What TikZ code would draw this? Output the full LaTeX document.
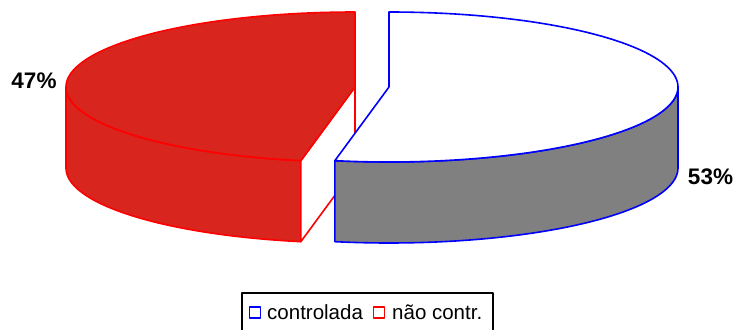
\documentclass[tikz,border=0pt]{standalone}
\usepackage{fontspec}
\setmainfont{Liberation Sans}
\definecolor{pred}{RGB}{216,37,29}
\definecolor{pgrey}{RGB}{128,128,128}
\begin{document}
\begin{tikzpicture}[x=1pt,y=-1pt,line join=round,
  redline/.style={draw=red,line width=1.6pt},
  blueline/.style={draw=blue,line width=1.6pt},
  pctlabel/.style={font=\bfseries\fontsize{22.5}{26}\selectfont,anchor=base,inner sep=0pt},
  legtext/.style={font=\fontsize{20.5}{24}\selectfont,anchor=base west,inner sep=0pt},
  legsq/.style={line width=1.5pt,minimum size=11pt,inner sep=0pt}]
\useasboundingbox (0,0) rectangle (738,329);
\clip (0,0) rectangle (738,329);
\def\rx{289}\def\ry{75}\def\dep{81}\def\cy{87}
\def\crx{355}\def\cwx{389}
\def\ta{259.2}\def\tb{-100.8}
% red slice: front side
\path[fill=pred,redline] plot[domain=180:\ta,samples=50] ({\crx+\rx*cos(\x)},{\cy-\ry*sin(\x)})
  -- plot[domain=\ta:180,samples=50] ({\crx+\rx*cos(\x)},{\cy+\dep-\ry*sin(\x)}) -- cycle;
% red slice: cut face
\path[fill=white,redline] (\crx,\cy) -- ({\crx+\rx*cos(\ta)},{\cy-\ry*sin(\ta)}) -- ++(0,\dep) -- (\crx,\cy+\dep) -- cycle;
% red slice: top
\path[fill=pred,redline] (\crx,\cy) -- plot[domain=90:\ta,samples=80] ({\crx+\rx*cos(\x)},{\cy-\ry*sin(\x)}) -- cycle;
% white slice: front side
\path[fill=pgrey,blueline] plot[domain=\tb:0,samples=60] ({\cwx+\rx*cos(\x)},{\cy-\ry*sin(\x)})
  -- plot[domain=0:\tb,samples=60] ({\cwx+\rx*cos(\x)},{\cy+\dep-\ry*sin(\x)}) -- cycle;
% white slice: top
\path[fill=white,blueline] (\cwx,\cy) -- plot[domain=90:\tb,samples=90] ({\cwx+\rx*cos(\x)},{\cy-\ry*sin(\x)}) -- cycle;
% labels
\node[pctlabel] (l47) at (34,88) {47\%};
\node[pctlabel] (l53) at (710.5,184) {53\%};
% legend
\draw[line width=1.5pt] (242,293) rectangle (493,333);
\node[legsq,draw=blue] (sqc) at (255,312.5) {};
\node[legtext] (tc) at (267,319.3) {controlada};
\node[legsq,draw=red] (sqn) at (379,312.5) {};
\node[legtext] (tn) at (392,319.3) {não contr.};
\end{tikzpicture}
\end{document}
